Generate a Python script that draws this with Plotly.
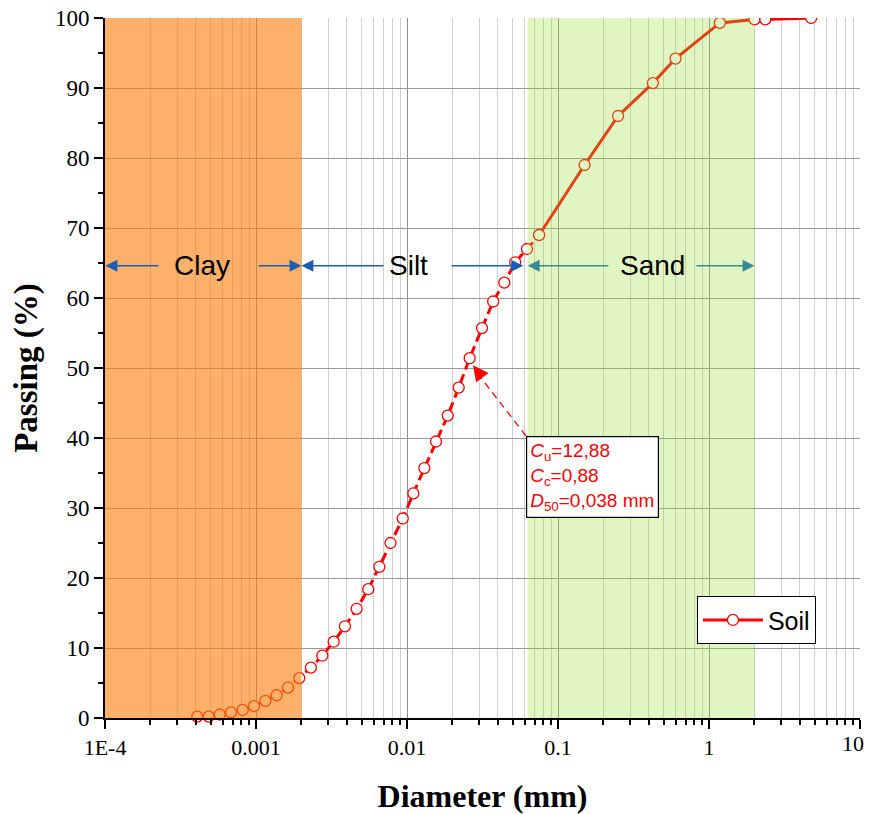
import numpy as np
import plotly.graph_objects as go

# ---------------- data ----------------
# hydrometer part (mm, % passing)
hyd_d = [0.000408, 0.000486, 0.000575, 0.000683, 0.000816, 0.00097, 0.001153,
         0.001371, 0.00163, 0.001935, 0.00231, 0.00275, 0.00327, 0.00388,
         0.00464, 0.00554, 0.00656, 0.00778, 0.00937, 0.01102, 0.01303,
         0.01557, 0.01861, 0.0220, 0.0260, 0.0314, 0.0372, 0.0441, 0.0521, 0.0623]
hyd_p = [0.2, 0.2, 0.5, 0.8, 1.15, 1.7, 2.45, 3.25, 4.35, 5.7, 7.2, 8.9, 10.9, 13.1,
         15.6, 18.4, 21.6, 25.0, 28.5, 32.1, 35.7, 39.5, 43.2, 47.2, 51.4, 55.7,
         59.5, 62.2, 65.1, 67.0]
# sieve part
sieve_d = [0.075, 0.15, 0.25, 0.425, 0.6, 1.18, 2.0, 2.36, 4.75]
sieve_p = [69.0, 79.0, 86.0, 90.7, 94.2, 99.3, 99.8, 99.8, 100.0]

# soil-fraction boundaries (mm)
d_min, clay_max, silt_max, sand_max, d_max = 1e-4, 0.002, 0.063, 2.0, 10.0
x_tickvals = [1e-4, 1e-3, 1e-2, 1e-1, 1, 10]
x_ticktext = ["1E-4", "0.001", "0.01", "0.1", "1", "10"]
y_tickvals = list(range(0, 101, 10))

stats_text = ("<i>C</i><sub>u</sub>=12,88<br><i>C</i><sub>c</sub>=0,88<br>"
              "<i>D</i><sub>50</sub>=0,038 mm")

SERIF = "Liberation Serif, Times New Roman, serif"
SANS = "Liberation Sans, Arial, sans-serif"

fig = go.Figure()

# dashed hydrometer line (joins first sieve point)
fig.add_trace(go.Scatter(
    x=hyd_d + sieve_d[:1], y=hyd_p + sieve_p[:1], mode="lines+markers",
    line=dict(color="red", width=3, dash="10px,5px"),
    marker=dict(symbol="circle", size=11, color="white",
                line=dict(color="red", width=1.3)),
    showlegend=False, hoverinfo="x+y", cliponaxis=False))
# solid sieve line
fig.add_trace(go.Scatter(
    x=sieve_d, y=sieve_p, mode="lines+markers", name="Soil",
    line=dict(color="red", width=3),
    marker=dict(symbol="circle", size=11, color="white",
                line=dict(color="red", width=1.3)),
    showlegend=True, hoverinfo="x+y"))

# fraction regions (semi-transparent, above data like the original)
fig.add_shape(type="rect", xref="x", yref="y", x0=d_min, x1=clay_max, y0=0, y1=100,
              fillcolor="rgba(252,128,15,0.62)", line=dict(width=0), layer="above")
fig.add_shape(type="rect", xref="x", yref="y", x0=silt_max, x1=sand_max, y0=0, y1=100,
              fillcolor="rgba(155,221,55,0.30)", line=dict(width=0), layer="above")

# D50 pointer (dashed)
tip_x, tip_y = -1.563, 50.4     # log10 position of arrow tip
box_x, box_y = -1.212, 40.3     # log10 position of box corner
fig.add_shape(type="line", xref="x", yref="y",
              x0=10 ** box_x, y0=box_y, x1=10 ** (tip_x + 0.02), y1=tip_y - 0.9,
              line=dict(color="red", width=1.3, dash="7px,5px"), layer="above")

annotations = []
# arrowhead of pointer
annotations.append(dict(x=tip_x, y=tip_y, xref="x", yref="y", ax=6, ay=8,
                        axref="pixel", ayref="pixel", text="", showarrow=True,
                        arrowhead=2, arrowsize=2.4, arrowwidth=1.3, arrowcolor="red"))
# stats box
annotations.append(dict(x=box_x, y=box_y, xref="x", yref="y", xanchor="left",
                        yanchor="top", text=stats_text, showarrow=False, align="left",
                        font=dict(family=SANS, size=19, color="red"),
                        bgcolor="white", bordercolor="black", borderwidth=1.2,
                        borderpad=3))

# fraction labels and arrows
arrow_y = 64.6
labels = [("Clay", -3.36), ("Silt", -1.99), ("Sand", -0.375)]
for txt, lx in labels:
    annotations.append(dict(x=lx, y=arrow_y, xref="x", yref="y", text=txt,
                            showarrow=False, font=dict(family=SANS, size=28, color="black")))

arrow_specs = [  # (head log10, tail log10, colour)
    (np.log10(d_min) + 0.003, -3.636, "#1a5fb4"),
    (np.log10(clay_max), -2.993, "#1a5fb4"),
    (np.log10(clay_max), -2.146, "#1a5fb4"),
    (np.log10(silt_max) - 0.03, -1.715, "#1a5fb4"),
    (np.log10(silt_max), -0.656, "#3a8a94"),
    (np.log10(sand_max), -0.093, "#3a8a94"),
]
for hx, tx, col in arrow_specs:
    annotations.append(dict(x=hx, y=arrow_y, ax=tx, ay=arrow_y, xref="x", yref="y",
                            axref="x", ayref="y", text="", showarrow=True,
                            arrowhead=2, arrowsize=1.7, arrowwidth=1.4, arrowcolor=col))

# last x tick label drawn right-aligned so it is not cut at the window edge
tick_labels_shown = x_ticktext[:-1] + [""]
annotations.append(dict(x=1.0085, y=0, xref="paper", yref="paper", xanchor="right",
                        yanchor="top", yshift=-11, text=x_ticktext[-1], showarrow=False,
                        font=dict(family=SERIF, size=22, color="black")))

# the page body adds an 8 px margin, so the figure is kept inside the window
fig.update_layout(
    width=866, height=806,
    margin=dict(l=97, r=14, t=10, b=96),
    paper_bgcolor="white", plot_bgcolor="white",
    annotations=annotations,
    showlegend=True,
    legend=dict(x=0.784, y=0.174, xanchor="left", yanchor="top",
                bgcolor="white", bordercolor="black", borderwidth=1,
                font=dict(family=SANS, size=25, color="black"),
                itemwidth=60, tracegroupgap=0),
    xaxis=dict(type="log", range=[np.log10(d_min), np.log10(d_max)], automargin=False,
               tickmode="array", tickvals=x_tickvals, ticktext=tick_labels_shown,
               ticklabeloverflow="allow",
               ticks="outside", ticklen=9, tickwidth=2, tickcolor="black",
               showline=True, linecolor="black", linewidth=2,
               showgrid=True, gridcolor="#8f8f8f", gridwidth=1,
               zeroline=False,
               tickfont=dict(family=SERIF, size=22, color="black"),
               minor=dict(ticks="outside", ticklen=5, tickwidth=1.5, tickcolor="black",
                          showgrid=True, gridcolor="#cfcfcf", gridwidth=1, dtick="D1"),
               title=dict(text="<b>Diameter (mm)</b>", standoff=26,
                          font=dict(family=SERIF, size=32, color="black"))),
    yaxis=dict(range=[0, 100], tickmode="array", tickvals=y_tickvals, automargin=False,
               ticklabeloverflow="allow",
               ticks="outside", ticklen=9, tickwidth=2, tickcolor="black",
               showline=True, linecolor="black", linewidth=2,
               showgrid=True, gridcolor="#999999", gridwidth=1,
               zeroline=False,
               tickfont=dict(family=SERIF, size=23, color="black"),
               minor=dict(ticks="outside", ticklen=5, tickwidth=1.5, tickcolor="black",
                          dtick=5, tick0=0, showgrid=False),
               title=dict(text="<b>Passing (%)</b>", standoff=14,
                          font=dict(family=SERIF, size=33, color="black"))),
)

fig.write_html("out.html")
